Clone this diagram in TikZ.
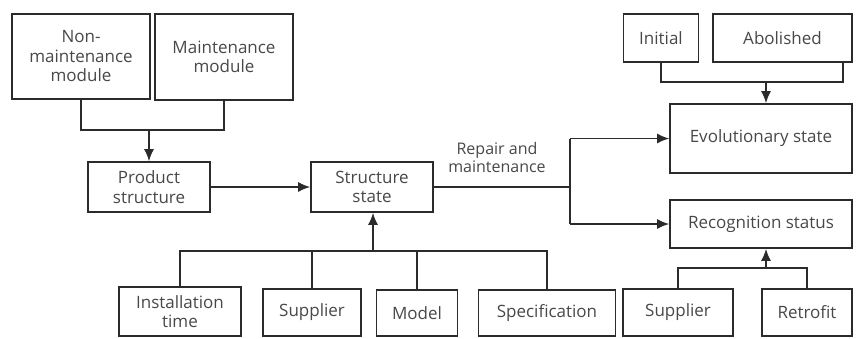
\documentclass[tikz,border=0pt]{standalone}
\usepackage{fontspec}
\setmainfont{Open Sans}
\usetikzlibrary{arrows.meta}
\definecolor{ink}{HTML}{2B2B2B}
\definecolor{txt}{HTML}{484848}
\begin{document}
\begin{tikzpicture}[x=1pt,y=-1pt,
  box/.style={draw=ink,line width=1.6pt,align=center,inner sep=0pt,
    text=txt,font=\fontsize{17}{19.5}\selectfont},
  link/.style={draw=ink,line width=1.6pt},
  arr/.style={link,-{Latex[length=12pt,width=10pt]}}]
\useasboundingbox (0,0) rectangle (858,338);
% module boxes and product structure
\node[box,minimum width=138pt,minimum height=85pt] (nm) at (81,56.5) {Non-\\maintenance\\module};
\node[box,minimum width=138pt,minimum height=86pt] (mm) at (224,57) {Maintenance\\module};
\node[box,minimum width=122pt,minimum height=50pt] (ps) at (149,187) {Product\\structure};
\node[box,minimum width=122pt,minimum height=50pt] (ss) at (372,187) {Structure\\state};
% attribute boxes along the bottom
\node[box,minimum width=122pt,minimum height=49pt] (inst) at (180,311.5) {Installation\\time};
\node[box,minimum width=98pt,minimum height=47pt] (sup1) at (312,312.5) {Supplier};
\node[box,minimum width=81pt,minimum height=46pt] (mod) at (417,313) {Model};
\node[box,minimum width=137pt,minimum height=46pt] (spec) at (547,313) {Specification};
% state boxes on the right
\node[box,minimum width=75pt,minimum height=48pt] (ini) at (661,38) {Initial};
\node[box,minimum width=139pt,minimum height=48pt] (abo) at (782.5,38) {Abolished};
\node[box,minimum width=182pt,minimum height=69pt] (evo) at (761,138.5) {Evolutionary state};
\node[box,minimum width=182pt,minimum height=48pt] (rec) at (761,224) {Recognition status};
\node[box,minimum width=110pt,minimum height=47pt] (sup2) at (678,312.5) {Supplier};
\node[box,minimum width=90pt,minimum height=47pt] (ret) at (807,312.5) {Retrofit};
% junction points
\coordinate (j1) at (149,130);
\coordinate (j2) at (766,82);
\coordinate (j3) at (373,251);
\coordinate (j4) at (766,268);
\coordinate (sp) at (570,187);
% modules merge into product structure
\draw[link] (nm.south) |- (mm.south |- j1) -- (mm.south);
\draw[arr] (j1) -- (ps.north);
\draw[arr] (ps.east) -- (ss.west);
% repair and maintenance branch
\draw[link] (ss.east) -- (sp);
\draw[link] (sp |- evo.west) -- (sp |- rec.west);
\draw[arr] (sp |- evo.west) -- (evo.west);
\draw[arr] (sp |- rec.west) -- (rec.west);
\node[text=txt,font=\fontsize{16}{18}\selectfont,align=center] (rm) at (497,157) {Repair and\\maintenance};
% initial / abolished into evolutionary state
\draw[link] (ini.south) |- (j2) -| ([xshift=60.5pt]abo.south);
\draw[arr] (j2) -- (j2 |- evo.north);
% attributes into structure state
\draw[link] (inst.north) |- (j3) -| (spec.north);
\draw[link] (sup1.north) -- (sup1.north |- j3);
\draw[link] (mod.north) -- (mod.north |- j3);
\draw[arr] (j3) -- (j3 |- ss.south);
% attributes into recognition status
\draw[link] (sup2.north) |- (j4) -| (ret.north);
\draw[arr] (j4) -- (j4 |- rec.south);
\end{tikzpicture}
\end{document}
